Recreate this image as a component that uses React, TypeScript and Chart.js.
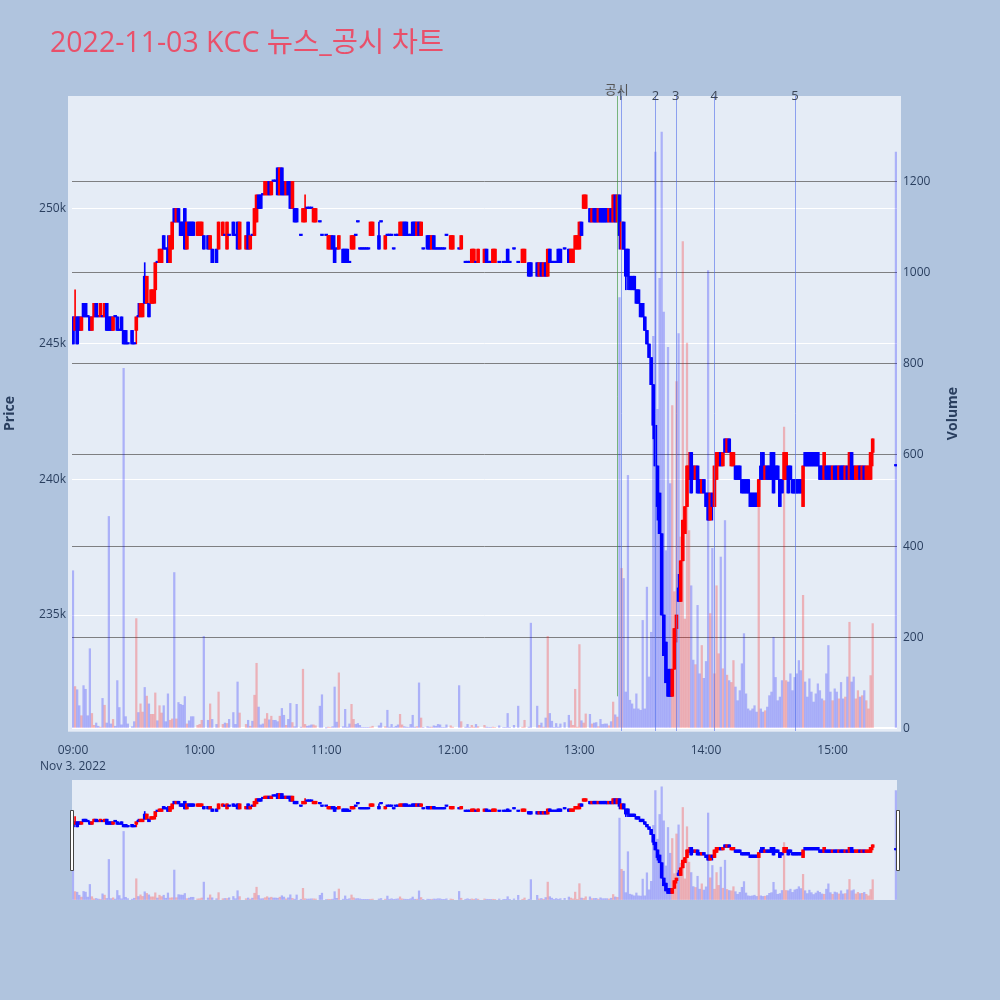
import React, { useEffect, useRef } from "react";
import { Chart, registerables } from "chart.js";

Chart.register(...registerables);

// ---------------- text ----------------
const TITLE = "2022-11-03 KCC 뉴스_공시 차트";
const DATE_LABEL = "Nov 3, 2022";
const PRICE_TITLE = "Price";
const VOLUME_TITLE = "Volume";

// ---------------- axes ----------------
const timeTicks = ["09:00", "10:00", "11:00", "12:00", "13:00", "14:00", "15:00"];
const priceTicks = [235, 240, 245, 250]; // thousand won
const priceTickLabels = ["235k", "240k", "245k", "250k"];
const volumeTicks = [0, 200, 400, 600, 800, 1000, 1200];
const xRange = ["08:59:32", "15:30:31"];
const priceRange = [230.72, 254.15];
const volumeRange = [-5.5, 1387];

// ---------------- news / disclosure events ----------------
const eventTimes = ["13:17:40", "13:19:30", "13:36:00", "13:45:40", "14:03:55", "14:42:10"];
const eventLabels = ["공시", "1", "2", "3", "4", "5"];

// ---------------- minute bars (price in thousand won) ----------------
const times = [
  "09:00","09:01","09:02","09:03","09:04","09:05","09:06","09:07","09:08","09:09",
  "09:10","09:11","09:12","09:13","09:14","09:15","09:16","09:17","09:18","09:19",
  "09:20","09:21","09:22","09:23","09:24","09:25","09:26","09:28","09:29",
  "09:30","09:31","09:32","09:33","09:34","09:35","09:36","09:37","09:38","09:39",
  "09:40","09:41","09:42","09:43","09:44","09:45","09:46","09:47","09:48","09:49",
  "09:50","09:51","09:52","09:53","09:54","09:55","09:56","09:57","09:59",
  "10:00","10:01","10:02","10:04","10:05","10:06","10:08","10:09",
  "10:11","10:12","10:13","10:14","10:16","10:17","10:18","10:19",
  "10:22","10:23","10:24","10:25","10:26","10:27","10:28","10:29",
  "10:30","10:31","10:32","10:33","10:34","10:35","10:36","10:37","10:38","10:39",
  "10:40","10:41","10:42","10:43","10:44","10:45","10:46","10:48","10:49",
  "10:50","10:51","10:52","10:53","10:54","10:55","10:57","10:58",
  "11:00","11:01","11:02","11:03","11:04","11:05","11:06","11:08","11:09",
  "11:10","11:11","11:12","11:13","11:14","11:15","11:16","11:17","11:18","11:19",
  "11:20","11:21","11:22","11:25","11:26","11:28","11:29",
  "11:30","11:31","11:32","11:33","11:34","11:35","11:36","11:37","11:38","11:39",
  "11:40","11:41","11:42","11:43","11:44","11:45","11:46","11:48","11:49",
  "11:50","11:51","11:52","11:53","11:54","11:55","11:56","11:57","11:59",
  "12:00","12:03","12:04","12:06","12:07","12:08","12:09",
  "12:10","12:11","12:12","12:15","12:16","12:17","12:18","12:19",
  "12:20","12:22","12:24","12:25","12:26","12:27","12:29",
  "12:31","12:33","12:34","12:36","12:37",
  "12:40","12:41","12:42","12:43","12:44","12:45","12:46","12:47","12:48","12:49",
  "12:50","12:51","12:53","12:55","12:56","12:57","12:58","12:59",
  "13:00","13:01","13:02","13:03","13:05","13:06","13:07","13:08","13:09",
  "13:10","13:11","13:12","13:13","13:14","13:15","13:16","13:17","13:18","13:19",
  "13:20","13:21","13:22","13:23","13:24","13:25","13:26","13:27","13:28","13:29",
  "13:30","13:31","13:32","13:33","13:34","13:35","13:36","13:37","13:38","13:39",
  "13:40","13:41","13:42","13:43","13:44","13:45","13:46","13:47","13:48","13:49",
  "13:50","13:51","13:52","13:53","13:54","13:55","13:56","13:57","13:58","13:59",
  "14:00","14:01","14:02","14:03","14:04","14:05","14:06","14:07","14:08","14:09",
  "14:10","14:11","14:12","14:13","14:14","14:15","14:16","14:17","14:18","14:19",
  "14:20","14:21","14:22","14:23","14:24","14:25","14:26","14:27","14:28","14:29",
  "14:30","14:31","14:32","14:33","14:34","14:35","14:36","14:37","14:38","14:39",
  "14:40","14:41","14:42","14:43","14:44","14:45","14:46","14:47","14:48","14:49",
  "14:50","14:51","14:52","14:53","14:54","14:55","14:56","14:57","14:58","14:59",
  "15:00","15:01","15:02","15:03","15:04","15:05","15:06","15:07","15:08","15:09",
  "15:10","15:11","15:12","15:13","15:14","15:15","15:16","15:17","15:18","15:19",
  "15:30",
];

const opens = [
  246,245.5,246,246,245.5,246.5,246.5,246,246,245.5,
  246,246.5,246,246,246,246,246.5,246,246,245.5,
  246,246,245.5,246,245.5,245.5,245,245.5,245,
  245.5,246,246,246,247.5,246.5,246.5,246.5,246.5,247,
  248,248,248,249,248.5,248.5,248,248.5,250,249.5,
  250,249.5,249.5,250,248.5,249.5,249.5,249.5,249,
  249,249,249,249,248.5,248.5,248.5,248.5,
  249,249,248.5,249,249.5,249,249.5,248.5,
  248.5,249.5,248.5,249,249,249.5,250.5,250.5,
  250.5,250.5,250.5,251,250.5,251,251,251.5,250.5,251.5,
  251,250.5,251,251,250,250,250,249,249.5,
  249.5,250,250,250,249.5,249.5,249.5,249,
  249,248.5,248.5,249,248.5,248.5,248.5,248.5,248.5,
  248.5,248,248.5,248.5,249,249.5,248.5,248.5,248.5,248.5,
  248.5,249,249,249,249.5,248.5,249,
  249,249,248.5,249,249,249,249,249.5,249.5,249,
  249,249.5,249.5,249,249.5,249,248.5,249,249,
  248.5,249,248.5,248.5,248.5,248.5,248.5,249,248.5,
  248.5,248.5,248.5,248,248,248,248,
  248,248,248,248,248.5,248,248,248,
  248,248,248,248,248.5,248,248.5,
  248,248,248,248,248,
  248,247.5,248,247.5,248,247.5,248.5,248,248,248,
  248.5,248.5,248.5,248.5,248,248,248.5,248.5,
  248.5,249.5,250,250,250,249.5,250,250,249.5,
  250,250,250,250,249.5,250,249.5,250.5,249.5,250.5,
  248.5,249.5,248.5,248.5,247.5,247.5,247.5,247,247,246.5,
  246.5,246,245.5,245,244.5,243.5,242,240.5,239.5,238,
  235,234,233,233,232,233,234.5,236,235.5,237,
  238,239,240,241,240.5,240,240.5,240,239.5,240,
  239.5,239.5,238.5,239.5,239,240,240.5,241,240.5,241.5,
  241,241.5,240.5,240.5,240.5,240.5,240.5,240,240,240,
  240,239.5,239.5,239.5,239.5,239,240.5,241,240,240.5,
  240.5,241,241,240.5,240.5,240,240,240,240,240.5,
  240.5,240,240,240,240,240,239,241,241,241,
  241,241,241,241,240.5,240.5,240,240.5,240.5,240.5,
  240,240.5,240.5,240,240.5,240.5,240,240.5,240,241,
  240.5,240,240,240.5,240,240.5,240,240,240,241,
  240.5,
];

const highs = [
  246,247,246,246,246,246.5,246.5,246,246,246,
  246.5,246.5,246,246.5,246,246.5,246.5,246,246,246,
  246,246,245.5,246,245.5,245.5,245,245.5,245,
  246,246.5,246.5,246.5,248,247.5,246.5,247,247,248,
  248,248.5,248.5,249,248.5,249,249,249.5,250,250,
  250,249.5,249.5,250,249.5,249.5,249.5,249.5,249.5,
  249.5,249.5,249,249,249,248.5,248.5,249.5,
  249.5,249,249.5,249,249.5,249,249.5,249.5,
  249,249.5,249,249,250,250.5,250.5,250.5,
  250.5,251,251,251,251,251,251,251.5,251.5,251.5,
  251,251,251,251,251,250,250,249,250,
  250.5,250,250,250,250,250,249.5,249,
  249,249,249,249,249,248.5,249,248.5,248.5,
  248.5,248,249,249,249,249.5,248.5,248.5,248.5,248.5,
  248.5,249.5,249.5,249.5,249.5,249,249,
  249,249,248.5,249,249,249.5,249.5,249.5,249.5,249,
  249,249.5,249.5,249.5,249.5,249.5,248.5,249,249,
  249,249,248.5,248.5,248.5,248.5,248.5,249,249,
  249,248.5,249,248,248,248,248.5,
  248.5,248,248.5,248.5,248.5,248,248,248.5,
  248.5,248,248,248,248.5,248,248.5,
  248,248.5,248.5,248,248,
  248,248,248,248,248,248.5,248.5,248,248,248,
  248.5,248.5,248.5,248.5,248.5,248.5,249,249,
  249.5,249.5,250.5,250.5,250,250,250,250,250,
  250,250,250,250,250,250,250.5,250.5,250.5,250.5,
  249.5,249.5,248.5,248.5,247.5,247.5,247.5,247,247,246.5,
  246.5,246,245.5,245,244.5,243.5,242,240.5,239.5,238,
  235,234,233,233,233,234.5,235,236.5,237,238.5,
  239,240.5,241,241,240.5,240.5,240.5,240,240,240,
  239.5,239.5,239.5,239.5,240.5,241,241,241,241,241.5,
  241.5,241.5,241,241,240.5,240.5,240.5,240,240,240,
  240,239.5,239.5,239.5,239.5,240,241,241,240.5,240.5,
  240.5,241,241,240.5,240.5,240,240,241,241,240.5,
  240.5,240,240,240,240,240,240.5,241,241,241,
  241,241,241,241,240.5,240.5,241,240.5,240.5,240.5,
  240.5,240.5,240.5,240.5,240.5,240.5,240.5,240.5,241,241,
  240.5,240.5,240.5,240.5,240.5,240.5,240.5,240.5,241,241.5,
  240.5,
];

const lows = [
  245,245.5,245,245.5,245.5,246,246,246,245.5,245.5,
  246,246,246,246,246,246,245.5,245.5,245.5,245.5,
  246,245.5,245.5,245.5,245,245,245,245,245,
  245,246,246,246,246.5,246.5,246,246.5,246.5,246.5,
  248,248,248,248.5,248.5,248,248,248.5,249.5,249.5,
  249.5,249,249,248.5,248.5,249,249,249,249,
  249,249,248.5,248.5,248.5,248,248,248.5,
  249,249,248.5,249,249,249,248.5,248.5,
  248.5,248.5,248.5,249,249,249.5,250,250,
  250.5,250.5,250.5,250.5,250.5,251,251,250.5,250.5,250.5,
  250.5,250.5,250.5,250,250,249.5,249.5,249,249.5,
  249.5,250,250,250,249.5,249.5,249.5,249,
  249,248.5,248.5,248.5,248,248.5,248.5,248,248,
  248,248,248.5,248.5,249,249.5,248.5,248.5,248.5,248.5,
  248.5,249,249,248.5,249.5,248.5,249,
  249,249,248.5,249,249,249,249,249,249,249,
  249,249,249,249,249,249,248.5,248.5,248.5,
  248.5,248.5,248.5,248.5,248.5,248.5,248.5,249,248.5,
  248.5,248.5,248.5,248,248,248,248,
  248,248,248,248,248,248,248,248,
  248,248,248,248,248,248,248.5,
  248,248,248,247.5,247.5,
  247.5,247.5,247.5,247.5,247.5,247.5,248,248,248,248,
  248,248,248.5,248,248,248,248.5,248.5,
  248.5,249,250,250,249.5,249.5,249.5,249.5,249.5,
  249.5,249.5,249.5,249.5,249.5,249.5,249.5,249.5,249.5,248.5,
  248.5,248.5,247,247,247,247,247,246.5,246.5,246,
  246,245.5,245,244.5,243.5,241.5,240.5,238.5,238,235,
  233.5,232.5,232,232,232,233,234,235.5,235.5,237,
  238,239,240,239.5,240,240,239.5,239.5,239.5,239.5,
  239,238.5,238.5,238.5,239,240,240.5,240.5,240.5,241,
  241,241,240.5,240.5,240,240,240,239.5,239.5,239.5,
  239.5,239,239,239,239,239,240,240,240,240,
  240,240,239.5,240,240,239,239.5,240,240,239.5,
  240,239.5,239.5,239.5,239.5,239.5,239,240.5,240.5,240.5,
  240.5,240.5,240.5,240.5,240,240,240,240,240,240,
  240,240,240,240,240,240,240,240,240,240,
  240,240,240,240,240,240,240,240,240,240.5,
  240.5,
];

const closes = [
  245,246,245,245.5,246,246,246,246,245.5,246,
  246.5,246,246,246.5,246,246.5,245.5,245.5,245.5,246,
  246,245.5,245.5,245.5,245,245,245,245,245,
  246,246,246.5,246.5,246.5,247.5,246,247,247,248,
  248,248.5,248.5,248.5,248.5,248,249,249.5,249.5,250,
  249.5,249,249,248.5,249.5,249,249,249,249.5,
  249.5,249.5,248.5,248.5,249,248,248,249.5,
  249.5,249,249.5,249,249,249,248.5,249.5,
  249,248.5,249,249,250,250.5,250,250,
  250.5,251,251,250.5,251,251,251,250.5,251.5,250.5,
  250.5,251,250.5,250,251,249.5,249.5,249,250,
  250,250,250,250,250,250,249.5,249,
  249,249,249,248.5,248,248.5,249,248,248,
  248,248,249,249,249,249.5,248.5,248.5,248.5,248.5,
  248.5,249.5,249.5,248.5,249.5,249,249,
  249,249,248.5,249,249,249.5,249.5,249,249,249,
  249,249,249,249.5,249,249.5,248.5,248.5,248.5,
  249,248.5,248.5,248.5,248.5,248.5,248.5,249,249,
  249,248.5,249,248,248,248,248.5,
  248.5,248,248.5,248.5,248,248,248,248.5,
  248.5,248,248,248,248,248,248.5,
  248,248.5,248.5,247.5,247.5,
  247.5,248,247.5,248,247.5,248.5,248,248,248,248,
  248,248,248.5,248,248.5,248.5,249,249,
  249.5,249,250.5,250.5,249.5,250,249.5,249.5,250,
  249.5,249.5,249.5,249.5,250,249.5,250.5,249.5,250.5,249,
  249.5,248.5,247.5,247.5,247,247,247,246.5,246.5,246,
  246,245.5,245,244.5,243.5,242,240.5,239,238,235,
  233.5,232.5,232,232,233,234.5,235,235.5,237,238.5,
  239,240.5,240.5,239.5,240,240.5,239.5,239.5,240,239.5,
  239,238.5,239.5,239,240.5,241,241,240.5,241,241,
  241.5,241,241,241,240,240,240,239.5,239.5,239.5,
  239.5,239,239,239,239,240,240,240,240.5,240,
  240,240,239.5,240,240,239,239.5,241,241,239.5,
  240,239.5,239.5,239.5,239.5,239.5,240.5,240.5,240.5,240.5,
  240.5,240.5,240.5,240.5,240,240,241,240,240,240,
  240.5,240,240,240.5,240,240,240.5,240,241,240,
  240,240.5,240.5,240,240.5,240,240.5,240.5,241,241.5,
  240.5,
];

const volumes = [
  346,92,85,50,28,94,86,28,175,33,
  7,12,5,3,66,51,12,465,10,20,
  5,105,46,8,790,26,10,4,15,
  241,35,54,36,90,71,54,31,31,78,
  17,50,34,50,15,76,18,21,342,21,
  57,53,51,70,10,17,26,26,7,
  9,18,202,18,54,20,9,80,
  9,12,11,20,35,9,102,34,
  9,18,5,16,73,143,47,8,
  10,21,33,19,27,18,18,15,27,44,
  29,7,20,55,13,4,53,3,130,
  9,5,6,8,8,6,49,74,
  1,3,2,4,91,14,122,4,42,
  3,10,53,20,9,11,7,2,2,2,
  2,3,5,6,12,4,40,
  3,9,2,5,8,31,8,4,3,2,
  9,29,3,4,100,23,2,4,3,
  3,6,5,9,8,2,2,8,6,
  3,94,15,3,9,2,7,
  3,9,4,7,3,2,2,3,
  2,6,2,2,33,2,7,
  49,3,18,3,231,
  49,7,12,3,23,202,33,16,2,11,
  3,10,13,29,17,7,86,3,
  184,17,12,32,31,10,12,13,4,
  20,9,10,10,6,15,58,30,25,945,
  351,329,80,555,62,54,43,76,43,40,
  237,43,310,113,211,860,1264,700,987,1308,
  913,390,836,537,708,300,761,866,420,1068,
  240,845,434,313,150,140,270,120,182,110,
  147,1004,252,395,120,313,164,376,131,456,
  117,105,101,149,91,61,83,142,208,76,
  43,39,43,50,36,485,43,36,39,47,
  72,80,200,112,61,69,105,661,105,102,
  120,83,112,120,149,127,292,102,69,109,
  80,58,76,98,83,65,61,120,182,80,
  61,87,80,65,101,65,69,113,233,102,
  113,65,83,69,72,83,61,43,116,230,
  1264,
];

// ---------------- styling ----------------
const PAGE_BG = "#B0C4DE";
const PLOT_BG = "#E5ECF6";
const TEXT = "#2a3f5f";
const TITLE_COLOR = "#E9506A";
const FONT = "'Open Sans', 'Noto Sans CJK KR', sans-serif";
const UP = "#ff0000";
const DOWN = "#0000ff";
const UP_VOL = "rgba(255,0,0,0.25)";
const DOWN_VOL = "rgba(0,0,255,0.25)";

const toMin = (t: string): number => {
  const p = t.split(":").map(Number);
  return (p[0] - 9) * 60 + p[1] + (p[2] || 0) / 60;
};

function buildDatasets(bodyW: number, wickW: number, volW: number) {
  const n = Math.min(times.length, opens.length, highs.length, lows.length, closes.length, volumes.length);
  const xs = times.slice(0, n).map(toMin);
  const isUp = xs.map((_, i) => closes[i] > opens[i]);
  return [
    {
      type: "bar" as const,
      label: "body",
      data: xs.map((x, i) => ({ x, y: [opens[i], closes[i]] })),
      backgroundColor: isUp.map((u) => (u ? UP : DOWN)),
      barThickness: bodyW,
      minBarLength: 1.5,
      grouped: false,
      borderWidth: 0,
      yAxisID: "y",
      order: 1,
    },
    {
      type: "bar" as const,
      label: "wick",
      data: xs.map((x, i) => ({ x, y: [lows[i], highs[i]] })),
      backgroundColor: isUp.map((u) => (u ? UP : DOWN)),
      barThickness: wickW,
      minBarLength: 1,
      grouped: false,
      borderWidth: 0,
      yAxisID: "y",
      order: 2,
    },
    {
      type: "bar" as const,
      label: "volume",
      data: xs.map((x, i) => ({ x, y: volumes[i] })),
      backgroundColor: isUp.map((u) => (u ? UP_VOL : DOWN_VOL)),
      barThickness: volW,
      grouped: false,
      borderWidth: 0,
      yAxisID: "y2",
      order: 3,
    },
  ];
}

const mainDecor = {
  id: "mainDecor",
  beforeDraw(chart: any) {
    const { ctx, chartArea: a } = chart;
    ctx.save();
    ctx.fillStyle = PLOT_BG;
    ctx.fillRect(a.left - 4, a.top, a.right - a.left + 8, a.bottom - a.top + 0.7);
    ctx.restore();
  },
  afterDatasetsDraw(chart: any) {
    const { ctx, chartArea: a } = chart;
    const xs = chart.scales.x;
    const ys = chart.scales.y;
    const dayLow = Math.min(...lows);
    ctx.save();
    eventTimes.forEach((t, i) => {
      const x = Math.round(xs.getPixelForValue(toMin(t))) + 0.5;
      ctx.beginPath();
      if (i === 0) {
        ctx.strokeStyle = "rgba(60,150,60,0.65)";
        ctx.lineWidth = 1;
        ctx.moveTo(x, a.top);
        ctx.lineTo(x, ys.getPixelForValue(dayLow));
      } else {
        ctx.strokeStyle = "rgba(80,110,235,0.6)";
        ctx.lineWidth = 1;
        ctx.moveTo(x, a.top);
        ctx.lineTo(x, a.bottom);
      }
      ctx.stroke();
    });
    ctx.restore();
  },
  afterDraw(chart: any) {
    const { ctx, chartArea: a } = chart;
    const xs = chart.scales.x;
    ctx.save();
    // title
    ctx.fillStyle = TITLE_COLOR;
    ctx.font = `28.5px ${FONT}`;
    ctx.textAlign = "left";
    ctx.textBaseline = "alphabetic";
    ctx.fillText(TITLE, 50, 51.5);
    // event labels
    ctx.textAlign = "center";
    ctx.textBaseline = "middle";
    eventTimes.forEach((t, i) => {
      const x = xs.getPixelForValue(toMin(t));
      ctx.font = `13px ${FONT}`;
      if (i === 0) {
        ctx.fillStyle = "#555555";
        ctx.fillText(eventLabels[i], x, a.top - 6);
      } else {
        ctx.fillStyle = "#3a4556";
        ctx.fillText(eventLabels[i], x, a.top + 0.5);
      }
    });
    // axis titles
    ctx.fillStyle = TEXT;
    ctx.font = `bold 14px ${FONT}`;
    const midY = (a.top + a.bottom) / 2;
    ctx.translate(10, midY);
    ctx.rotate(-Math.PI / 2);
    ctx.fillText(PRICE_TITLE, 0, 0);
    ctx.setTransform(1, 0, 0, 1, 0, 0);
    ctx.translate(953, midY);
    ctx.rotate(-Math.PI / 2);
    ctx.fillText(VOLUME_TITLE, 0, 0);
    ctx.restore();
  },
};

const sliderDecor = {
  id: "sliderDecor",
  beforeDraw(chart: any) {
    const { ctx, chartArea: a } = chart;
    ctx.save();
    ctx.fillStyle = PLOT_BG;
    ctx.fillRect(a.left, a.top, a.right - a.left, a.bottom - a.top);
    ctx.restore();
  },
  afterDraw(chart: any) {
    const { ctx, chartArea: a } = chart;
    const h = 60;
    const y = (a.top + a.bottom) / 2 - h / 2;
    ctx.save();
    ctx.fillStyle = "#ffffff";
    ctx.strokeStyle = "#444444";
    ctx.lineWidth = 1;
    [a.left - 2.5, a.right - 1.5].forEach((x) => {
      ctx.beginPath();
      ctx.rect(Math.round(x) + 0.5, Math.round(y) + 0.5, 3, h);
      ctx.fill();
      ctx.stroke();
    });
    ctx.restore();
  },
};

const tickFont = { family: FONT, size: 12 };

export default function App() {
  const mainRef = useRef<HTMLCanvasElement>(null);
  const sliderRef = useRef<HTMLCanvasElement>(null);

  useEffect(() => {
    const xMin = toMin(xRange[0]);
    const xMax = toMin(xRange[1]);
    const tickMinutes = timeTicks.map(toMin);

    const main = new Chart(mainRef.current as HTMLCanvasElement, {
      type: "bar",
      data: { datasets: buildDatasets(3, 1, 1.6) as any },
      options: {
        animation: false,
        responsive: false,
        devicePixelRatio: 1,
        events: [],
        layout: { padding: { top: 96, left: 0, right: 0, bottom: 0 } },
        plugins: { legend: { display: false }, tooltip: { enabled: false }, title: { display: false } },
        scales: {
          x: {
            type: "linear",
            min: xMin,
            max: xMax,
            offset: false,
            grid: { display: false, offset: false },
            border: { display: false },
            afterBuildTicks: (s: any) => {
              s.ticks = tickMinutes.map((v) => ({ value: v }));
            },
            afterFit: (s: any) => {
              s.height = 39;
            },
            ticks: {
              autoSkip: false,
              maxRotation: 0,
              minRotation: 0,
              padding: 4,
              color: TEXT,
              font: { ...tickFont, lineHeight: 1.3 },
              callback: (v: any) => {
                const i = tickMinutes.indexOf(Number(v));
                if (i < 0) return "";
                return i === 0 ? [timeTicks[i], DATE_LABEL] : timeTicks[i];
              },
            },
          },
          y: {
            type: "linear",
            position: "left",
            min: priceRange[0],
            max: priceRange[1],
            grid: { color: "#ffffff", lineWidth: 1, drawTicks: false },
            border: { display: false },
            afterBuildTicks: (s: any) => {
              s.ticks = priceTicks.map((v) => ({ value: v }));
            },
            afterFit: (s: any) => {
              s.width = 72;
            },
            ticks: {
              padding: 6,
              color: TEXT,
              font: tickFont,
              callback: (v: any) => {
                const i = priceTicks.indexOf(Number(v));
                return i < 0 ? "" : priceTickLabels[i];
              },
            },
          },
          y2: {
            type: "linear",
            position: "right",
            min: volumeRange[0],
            max: volumeRange[1],
            grid: {
              drawTicks: false,
              color: (c: any) => (c.tick && c.tick.value === 0 ? "#ffffff" : "rgba(100,100,100,0.8)"),
              lineWidth: (c: any) => (c.tick && c.tick.value === 0 ? 2 : 1),
            },
            border: { display: false },
            afterBuildTicks: (s: any) => {
              s.ticks = volumeTicks.map((v) => ({ value: v }));
            },
            afterFit: (s: any) => {
              s.width = 103;
            },
            ticks: {
              padding: 6,
              color: TEXT,
              font: tickFont,
              callback: (v: any) => String(v),
            },
          },
        },
      } as any,
      plugins: [mainDecor],
    });

    const slider = new Chart(sliderRef.current as HTMLCanvasElement, {
      type: "bar",
      data: { datasets: buildDatasets(3, 1, 1.6) as any },
      options: {
        animation: false,
        responsive: false,
        devicePixelRatio: 1,
        events: [],
        layout: { padding: { top: 10, left: 72, right: 103, bottom: 10 } },
        plugins: { legend: { display: false }, tooltip: { enabled: false } },
        scales: {
          x: { type: "linear", min: xMin, max: xMax, offset: false, display: false, grid: { offset: false } },
          y: { type: "linear", min: priceRange[0], max: priceRange[1], display: false },
          y2: { type: "linear", position: "right", min: volumeRange[0], max: volumeRange[1], display: false },
        },
      } as any,
      plugins: [sliderDecor],
    });

    return () => {
      main.destroy();
      slider.destroy();
    };
  }, []);

  return (
    <div
      style={{
        position: "fixed",
        left: 0,
        top: 0,
        width: 1000,
        height: 1000,
        background: PAGE_BG,
        overflow: "hidden",
      }}
    >
      <canvas ref={mainRef} width={1000} height={770} style={{ position: "absolute", left: 0, top: 0 }} />
      <canvas ref={sliderRef} width={1000} height={140} style={{ position: "absolute", left: 0, top: 770 }} />
    </div>
  );
}
